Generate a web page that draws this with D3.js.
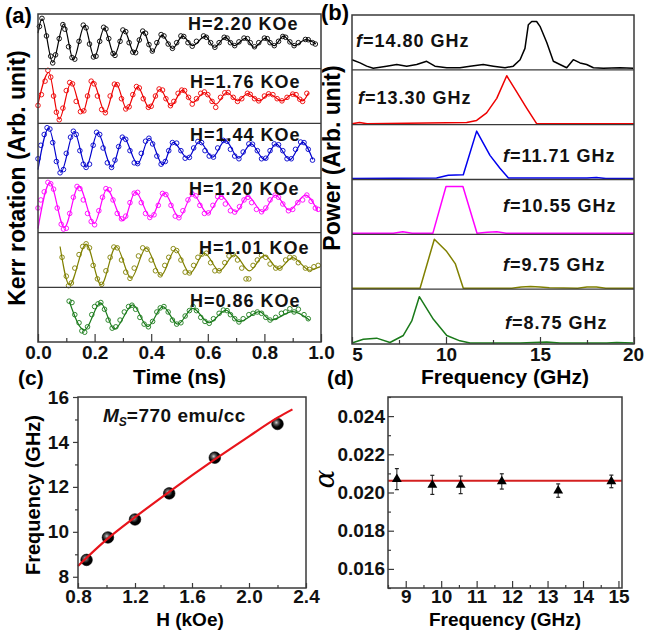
<!DOCTYPE html>
<html><head><meta charset="utf-8">
<script src="https://cdn.jsdelivr.net/npm/d3@7"></script>
<style>
body{margin:0;background:#fff;}
svg{display:block;}
</style></head><body>
<svg id="chart" width="645" height="634"></svg>
<script>
// ================= DATA =================
// (a) Kerr rotation traces: fit curves (extrema read from picture) and measured points
const kerrLabels = ["H=2.20 KOe","H=1.76 KOe","H=1.44 KOe","H=1.20 KOe","H=1.01 KOe","H=0.86 KOe"];
const kerrColors = ["#000000","#ee0000","#0000cc","#ff00ff","#808000","#1a7a1a"];
const timeTicks = [0,0.2,0.4,0.6,0.8,1.0];
const timeMinorTicks = [0.1,0.3,0.5,0.7,0.9];

const kerrFit1 = [[0,0.3],[0.014,0.83],[0.052,-0.78],[0.091,0.64],[0.125,-0.68],[0.164,0.58],[0.199,-0.59],[0.234,0.48],[0.270,-0.51],[0.305,0.40],[0.340,-0.43],[0.372,0.36],[0.405,-0.38],[0.438,0.23],[0.476,-0.26],[0.511,0.19],[0.547,-0.16],[0.591,0.19],[0.623,-0.22],[0.662,0.15],[0.694,-0.16],[0.733,0.11],[0.764,-0.22],[0.803,0.11],[0.835,-0.16],[0.867,0.19],[0.906,-0.16],[0.947,0.06],[0.982,-0.10]];
const kerrFit2 = [[0,-0.3],[0.038,0.87],[0.075,-0.86],[0.117,0.50],[0.158,-0.61],[0.193,0.54],[0.238,-0.61],[0.276,0.46],[0.314,-0.49],[0.352,0.34],[0.393,-0.43],[0.431,0.25],[0.470,-0.36],[0.511,0.22],[0.547,-0.24],[0.588,0.13],[0.629,-0.30],[0.667,0.13],[0.706,-0.18],[0.741,0.09],[0.782,-0.18],[0.817,0.07],[0.862,-0.18],[0.900,0.07],[0.935,-0.18],[0.956,0.13]];
const kerrFit3 = [[0,-0.7],[0.038,0.83],[0.081,-0.80],[0.128,0.71],[0.170,-0.61],[0.211,0.66],[0.261,-0.61],[0.302,0.50],[0.352,-0.49],[0.393,0.46],[0.441,-0.52],[0.478,0.31],[0.529,-0.28],[0.570,0.34],[0.617,-0.24],[0.662,0.38],[0.709,-0.28],[0.753,0.25],[0.800,-0.33],[0.841,0.25],[0.890,-0.33],[0.935,0.31],[0.971,-0.33]];
const kerrFit4 = [[0,-0.86],[0.042,0.83],[0.093,-0.82],[0.144,0.71],[0.199,-0.67],[0.243,0.59],[0.302,-0.57],[0.344,0.50],[0.399,-0.45],[0.446,0.46],[0.499,-0.45],[0.547,0.41],[0.600,-0.30],[0.647,0.34],[0.700,-0.24],[0.741,0.34],[0.794,-0.24],[0.839,0.38],[0.888,-0.18],[0.945,0.38],[0.988,-0.20]];
const kerrFit5 = [[0.078,0.50],[0.111,-0.92],[0.170,0.59],[0.223,-0.92],[0.276,0.50],[0.329,-0.67],[0.382,0.44],[0.435,-0.57],[0.485,0.38],[0.537,-0.49],[0.588,0.25],[0.641,-0.40],[0.694,0.19],[0.747,-0.40],[0.800,0.17],[0.850,-0.33],[0.900,0.09],[0.960,-0.38],[0.995,-0.25]];
const kerrFit6 = [[0.111,0.48],[0.164,-0.57],[0.221,0.44],[0.270,-0.54],[0.335,0.36],[0.388,-0.44],[0.441,0.30],[0.494,-0.35],[0.547,0.23],[0.605,-0.30],[0.664,0.17],[0.711,-0.26],[0.782,0.11],[0.823,-0.20],[0.900,0.11],[0.959,-0.20]];

const kerrPts1 = [[0.005,0.55],[0.014,0.85],[0.03,0.2],[0.045,-0.55],[0.052,-0.80],[0.062,-0.5],[0.075,0.1],[0.088,0.62],[0.095,0.45],[0.108,-0.2],[0.12,-0.6],[0.13,-0.66],[0.145,0.0],[0.16,0.6],[0.17,0.5],[0.182,-0.1],[0.196,-0.58],[0.205,-0.55],[0.218,0.0],[0.232,0.52],[0.24,0.46],[0.25,0.1],[0.265,-0.45],[0.272,-0.52],[0.29,0.0],[0.3,0.42],[0.31,0.36],[0.322,-0.05],[0.335,-0.40],[0.345,-0.42],[0.358,0.05],[0.37,0.38],[0.38,0.3],[0.392,-0.12],[0.404,-0.36],[0.42,-0.05],[0.435,0.25],[0.445,0.2],[0.46,-0.1],[0.475,-0.26],[0.49,-0.05],[0.505,0.2],[0.515,0.18],[0.53,-0.05],[0.545,-0.18],[0.56,0.0],[0.585,0.2],[0.595,0.15],[0.61,-0.05],[0.625,-0.22],[0.64,-0.05],[0.658,0.15],[0.668,0.12],[0.68,-0.05],[0.695,-0.16],[0.71,-0.02],[0.728,0.12],[0.74,0.1],[0.75,-0.05],[0.765,-0.2],[0.78,-0.05],[0.8,0.12],[0.81,0.1],[0.82,-0.05],[0.835,-0.16],[0.85,0.0],[0.865,0.18],[0.875,0.15],[0.89,-0.02],[0.905,-0.16],[0.92,-0.05],[0.945,0.07],[0.955,0.06],[0.97,-0.05],[0.98,-0.1]];
const kerrPts2 = [[0.0,-0.35],[0.012,0.05],[0.025,0.55],[0.035,0.95],[0.045,0.7],[0.055,0.0],[0.065,-0.6],[0.075,-0.88],[0.088,-0.45],[0.1,0.2],[0.112,0.5],[0.122,0.45],[0.135,-0.2],[0.15,-0.58],[0.162,-0.55],[0.175,0.0],[0.188,0.55],[0.198,0.45],[0.21,0.0],[0.225,-0.5],[0.238,-0.62],[0.255,0.0],[0.27,0.44],[0.28,0.42],[0.295,-0.1],[0.31,-0.48],[0.322,-0.4],[0.335,0.05],[0.348,0.35],[0.358,0.3],[0.372,-0.1],[0.39,-0.42],[0.4,-0.38],[0.415,0.0],[0.428,0.26],[0.44,0.22],[0.452,-0.1],[0.468,-0.36],[0.48,-0.2],[0.495,0.1],[0.508,0.22],[0.518,0.2],[0.532,-0.05],[0.545,-0.3],[0.56,-0.1],[0.575,0.1],[0.588,0.15],[0.6,0.05],[0.615,-0.2],[0.628,-0.42],[0.645,-0.05],[0.66,0.12],[0.672,0.13],[0.69,-0.05],[0.705,-0.2],[0.72,-0.1],[0.74,0.1],[0.75,0.06],[0.765,-0.1],[0.78,-0.18],[0.8,0.0],[0.815,0.08],[0.83,0.05],[0.845,-0.1],[0.862,-0.18],[0.88,-0.05],[0.9,0.07],[0.912,0.05],[0.925,-0.12],[0.935,-0.2],[0.95,0.1]];
const kerrPts3 = [[0.0,-0.3],[0.01,0.2],[0.022,0.6],[0.032,0.85],[0.042,0.8],[0.052,0.3],[0.065,-0.4],[0.078,-0.82],[0.09,-0.7],[0.1,-0.1],[0.115,0.5],[0.125,0.72],[0.135,0.6],[0.148,0.0],[0.16,-0.5],[0.17,-0.62],[0.182,-0.5],[0.195,0.2],[0.207,0.68],[0.218,0.6],[0.23,0.1],[0.245,-0.45],[0.26,-0.62],[0.272,-0.35],[0.285,0.15],[0.298,0.5],[0.31,0.42],[0.325,0.0],[0.34,-0.45],[0.352,-0.48],[0.365,-0.1],[0.38,0.35],[0.392,0.46],[0.405,0.25],[0.42,-0.2],[0.435,-0.5],[0.45,-0.4],[0.462,0.0],[0.475,0.3],[0.49,0.28],[0.505,0.0],[0.52,-0.28],[0.535,-0.25],[0.55,0.1],[0.565,0.34],[0.578,0.3],[0.59,0.0],[0.605,-0.2],[0.62,-0.24],[0.635,0.1],[0.655,0.38],[0.668,0.35],[0.68,0.05],[0.695,-0.2],[0.71,-0.3],[0.725,-0.05],[0.745,0.25],[0.758,0.24],[0.775,0.0],[0.79,-0.3],[0.805,-0.28],[0.82,0.0],[0.835,0.25],[0.85,0.22],[0.865,0.0],[0.88,-0.3],[0.895,-0.3],[0.91,0.05],[0.928,0.32],[0.94,0.3],[0.955,0.05],[0.97,-0.35]];
const kerrPts4 = [[0.0,-0.1],[0.01,0.2],[0.022,0.5],[0.035,0.85],[0.045,0.8],[0.055,0.6],[0.068,-0.1],[0.082,-0.7],[0.09,-0.88],[0.1,-0.85],[0.112,-0.3],[0.125,0.3],[0.138,0.7],[0.148,0.62],[0.16,0.2],[0.175,-0.3],[0.188,-0.6],[0.2,-0.72],[0.215,-0.2],[0.228,0.3],[0.24,0.62],[0.252,0.58],[0.265,0.2],[0.28,-0.3],[0.295,-0.5],[0.31,-0.4],[0.325,0.1],[0.34,0.45],[0.352,0.48],[0.365,0.1],[0.38,-0.3],[0.395,-0.45],[0.41,-0.35],[0.425,0.0],[0.44,0.44],[0.452,0.4],[0.47,0.0],[0.485,-0.4],[0.498,-0.46],[0.512,-0.2],[0.53,0.2],[0.545,0.42],[0.558,0.35],[0.572,0.0],[0.588,-0.3],[0.602,-0.28],[0.618,0.0],[0.635,0.32],[0.648,0.3],[0.662,0.05],[0.68,-0.2],[0.695,-0.25],[0.712,-0.05],[0.728,0.2],[0.742,0.3],[0.755,0.1],[0.772,-0.15],[0.79,-0.24],[0.805,-0.1],[0.82,0.2],[0.838,0.38],[0.85,0.3],[0.865,0.05],[0.885,-0.2],[0.9,-0.15],[0.918,0.1],[0.935,0.2],[0.95,0.38],[0.965,0.15],[0.98,-0.1],[0.99,-0.15]];
const kerrPts5 = [[0.085,0.1],[0.1,-0.6],[0.108,-0.95],[0.118,-0.85],[0.13,-0.3],[0.145,0.2],[0.158,0.5],[0.17,0.6],[0.182,0.45],[0.195,-0.2],[0.21,-0.7],[0.225,-0.9],[0.24,-0.4],[0.255,0.1],[0.268,0.48],[0.28,0.45],[0.295,0.0],[0.31,-0.45],[0.325,-0.68],[0.34,-0.3],[0.355,0.15],[0.37,0.45],[0.385,0.4],[0.4,0.0],[0.415,-0.4],[0.432,-0.55],[0.448,-0.2],[0.462,0.1],[0.478,0.42],[0.49,0.35],[0.505,0.0],[0.52,-0.45],[0.535,-0.48],[0.55,-0.2],[0.565,0.1],[0.58,0.22],[0.595,0.25],[0.61,-0.1],[0.625,-0.4],[0.64,-0.4],[0.66,-0.1],[0.675,0.15],[0.69,0.2],[0.705,0.0],[0.72,-0.3],[0.735,-0.7],[0.745,-0.7],[0.76,-0.2],[0.775,0.0],[0.79,0.17],[0.805,0.1],[0.82,-0.15],[0.84,-0.3],[0.855,-0.3],[0.875,0.0],[0.89,0.1],[0.905,0.08],[0.92,-0.1],[0.945,-0.3],[0.96,-0.35],[0.975,-0.25],[0.99,-0.2]];
const kerrPts6 = [[0.11,0.5],[0.12,0.45],[0.13,0.0],[0.145,-0.3],[0.155,-0.6],[0.165,-0.65],[0.175,-0.45],[0.19,0.0],[0.2,0.3],[0.212,0.4],[0.222,0.45],[0.235,0.2],[0.248,-0.2],[0.262,-0.5],[0.275,-0.45],[0.29,-0.2],[0.305,0.1],[0.32,0.3],[0.332,0.35],[0.345,0.2],[0.36,-0.1],[0.375,-0.35],[0.39,-0.45],[0.405,-0.25],[0.42,0.1],[0.432,0.25],[0.445,0.3],[0.46,0.1],[0.475,-0.2],[0.49,-0.35],[0.505,-0.3],[0.52,-0.05],[0.535,0.15],[0.548,0.3],[0.56,0.15],[0.575,-0.1],[0.59,-0.25],[0.605,-0.32],[0.62,-0.15],[0.64,0.05],[0.655,0.17],[0.668,0.15],[0.68,0.0],[0.695,-0.15],[0.71,-0.27],[0.725,-0.15],[0.745,0.0],[0.76,0.05],[0.775,0.1],[0.79,0.05],[0.805,-0.1],[0.82,-0.2],[0.84,-0.1],[0.86,0.05],[0.875,0.1],[0.89,0.22],[0.905,0.1],[0.92,0.2],[0.94,0.0],[0.955,-0.15]];

// (b) FFT power spectra [frequency GHz, normalized power]
const specLabels = ["14.80 GHz","13.30 GHz","11.71 GHz","10.55 GHz","9.75 GHz","8.75 GHz"];
const specColors = ["#000000","#ee0000","#0000ee","#ff00ff","#808000","#1a7a1a"];
const freqTicks = [5,10,15,20];
const freqMinorTicks = [7.5,12.5,17.5];
const spec1 = [[5.0,0.17],[5.43,0.11],[5.78,0.05],[6.13,0.01],[6.49,0.03],[6.84,0.05],[7.38,0.08],[7.91,0.05],[8.44,0.08],[8.97,0.14],[9.41,0.05],[10.04,0.02],[10.74,0.02],[11.28,0.05],[11.98,0.08],[12.52,0.05],[13.14,0.02],[13.58,0.05],[13.94,0.17],[14.20,0.38],[14.38,0.82],[14.56,0.88],[14.82,0.88],[15.0,0.79],[15.36,0.49],[15.71,0.14],[16.06,0.08],[16.42,0.02],[16.77,0.17],[17.13,0.11],[17.48,0.08],[17.84,0.02],[18.37,0.01],[19.26,0.02],[19.96,0.01]];
const spec2 = [[5,0],[5.4,0.02],[5.8,0],[11.1,0.02],[11.63,0.06],[12.16,0.2],[12.7,0.47],[13.23,0.89],[13.76,0.59],[14.29,0.29],[14.82,0.0],[20,0]];
const spec3 = [[5,0.0],[9.5,0.01],[10.12,0.06],[10.92,0.07],[11.63,0.88],[12.34,0.43],[12.87,0.19],[13.32,0.01],[17.5,0.01],[18,0.02],[18.5,0],[20,0]];
const spec4 = [[5,0],[7.2,0],[7.7,0.03],[8.2,0],[9.3,0],[10.0,0.87],[10.9,0.87],[11.65,0],[12.2,0.02],[12.7,0.03],[13.2,0],[20,0]];
const spec5 = [[5,0],[8.62,0],[9.38,0.91],[10.04,0.68],[10.5,0.45],[10.92,0],[13.5,0],[14,0.02],[14.5,0.03],[15,0.02],[15.5,0.01],[17,0],[17.5,0.02],[18,0.02],[18.5,0],[20,0]];
const spec6 = [[5.0,0.0],[5.6,0.07],[6.31,0.09],[7.02,0.01],[7.73,0.14],[8.18,0.41],[8.58,0.86],[9.33,0.44],[10.04,0.14],[10.74,0.04],[11.28,0.0],[12.52,0.0],[13.94,0.0],[15.36,0.02],[16.06,0.0],[18.55,0.0],[19.08,0.01],[19.96,0.0]];

// (c) frequency vs field
const fieldH = [0.86,1.01,1.20,1.44,1.76,2.20];
const freqGHz = [8.75,9.75,10.55,11.71,13.30,14.80];
const fitH = [0.8,1.0,1.2,1.44,1.76,2.0,2.2,2.305];
const fitF = [8.48,9.65,10.65,11.78,13.22,14.25,15.08,15.45];
const hTicks = [0.8,1.2,1.6,2.0,2.4];
const hMinorTicks = [1.0,1.4,1.8,2.2];
const fTicks = [8,10,12,14,16];
const fMinorTicks = [9,11,13,15];

// (d) damping vs frequency
const alphaFreq = [8.75,9.75,10.55,11.71,13.30,14.80];
const alphaVal = [0.0207,0.0204,0.0204,0.02058,0.0201,0.02058];
const alphaErr = [0.00055,0.0005,0.00046,0.0004,0.00035,0.00033];
const alphaMean = 0.02062;
const dxTicks = [9,10,11,12,13,14,15];
const dxMinorTicks = [8.5,9.5,10.5,11.5,12.5,13.5,14.5];
const dyTicks = [0.016,0.018,0.020,0.022,0.024];
const dyMinorTicks = [0.015,0.017,0.019,0.021,0.023,0.025];

// ================= DRAWING =================
const FONT = "'Liberation Sans', Arial, Helvetica, sans-serif";
const svg = d3.select("#chart").attr("font-family", FONT).attr("font-weight", "bold");
const BORDER = "#3a3a3a";

function styleAxis(g, fs){
  g.attr("font-size", fs).attr("font-family", FONT).attr("font-weight", "bold");
  g.select(".domain").remove();
  g.selectAll(".tick line").attr("stroke", BORDER).attr("stroke-width", 1.2);
  g.selectAll(".tick text").attr("fill", "#111");
}

// ---------- Panel (a) ----------
const aBox = {l:38, r:321, t:14, b:342};
const aRowH = (aBox.b - aBox.t) / 6;
const xA = d3.scaleLinear().domain([0,1]).range([aBox.l, aBox.r]);
const kerrFits = [kerrFit1,kerrFit2,kerrFit3,kerrFit4,kerrFit5,kerrFit6];
const kerrPts = [kerrPts1,kerrPts2,kerrPts3,kerrPts4,kerrPts5,kerrPts6];
const aLabelPos = [[188,16],[190,19],[190,18],[189,17],[199,21],[190,20]];
const gA = svg.append("g");
kerrFits.forEach((fit, i) => {
  const top = aBox.t + i * aRowH, c = top + aRowH / 2;
  const y = d3.scaleLinear().domain([-1,1]).range([c + 27, c - 27]);
  const line = d3.line().x(d => xA(d[0])).y(d => y(d[1])).curve(d3.curveMonotoneX);
  gA.append("path").datum(fit).attr("d", line).attr("fill","none")
    .attr("stroke", kerrColors[i]).attr("stroke-width", 1.2);
  gA.append("g").selectAll("circle").data(kerrPts[i]).join("circle")
    .attr("cx", d => xA(d[0])).attr("cy", d => y(d[1])).attr("r", 2.3)
    .attr("fill","none").attr("stroke", kerrColors[i]).attr("stroke-width", 0.9);
  gA.append("text").attr("x", aLabelPos[i][0]).attr("y", top + aLabelPos[i][1])
    .attr("font-size", 18).attr("letter-spacing", 1).attr("fill","#111").text(kerrLabels[i]);
});
for (let i = 1; i < 6; i++) {
  gA.append("line").attr("x1", aBox.l).attr("x2", aBox.r)
    .attr("y1", aBox.t + i*aRowH).attr("y2", aBox.t + i*aRowH)
    .attr("stroke", BORDER).attr("stroke-width", 1.3);
}
gA.append("rect").attr("x", aBox.l).attr("y", aBox.t).attr("width", aBox.r-aBox.l).attr("height", aBox.b-aBox.t)
  .attr("fill","none").attr("stroke", BORDER).attr("stroke-width", 1.5);
const axA = gA.append("g").attr("transform", `translate(0,${aBox.b})`)
  .call(d3.axisBottom(xA).tickValues(timeTicks).tickSize(-8).tickPadding(4).tickFormat(d3.format(".1f")));
styleAxis(axA, 19);
const axAm = gA.append("g").attr("transform", `translate(0,${aBox.b})`)
  .call(d3.axisBottom(xA).tickValues(timeMinorTicks).tickSize(-4).tickFormat(""));
styleAxis(axAm, 19);
gA.append("text").attr("x", (aBox.l + aBox.r)/2).attr("y", 384).attr("text-anchor","middle")
  .attr("font-size", 21).text("Time (ns)");
gA.append("text").attr("transform", "translate(25,178) rotate(-90)").attr("text-anchor","middle")
  .attr("font-size", 23).text("Kerr rotation (Arb. unit)");
gA.append("text").attr("x", 5).attr("y", 23).attr("font-size", 22).text("(a)");

// ---------- Panel (b) ----------
const bBox = {l:352, r:634, t:15, b:344};
const bRowH = (bBox.b - bBox.t) / 6;
const xB = d3.scaleLinear().domain([5,20]).range([bBox.l, bBox.r]);
const specs = [spec1,spec2,spec3,spec4,spec5,spec6];
const bLabelPos = [[356,32],[358,34],[503,37],[503,32],[503,37],[505,40]];
const gB = svg.append("g");
specs.forEach((sp, i) => {
  const top = bBox.t + i * bRowH, bot = top + bRowH;
  const y = d3.scaleLinear().domain([0,1]).range([bot - 1, top]);
  const line = d3.line().x(d => xB(d[0])).y(d => y(d[1]));
  gB.append("path").datum(sp).attr("d", line).attr("fill","none")
    .attr("stroke", specColors[i]).attr("stroke-width", 1.5).attr("stroke-linejoin","round");
  const t = gB.append("text").attr("x", bLabelPos[i][0]).attr("y", top + bLabelPos[i][1])
    .attr("font-size", 18).attr("letter-spacing", 1).attr("fill","#111");
  t.append("tspan").attr("font-style","italic").text("f");
  t.append("tspan").text("=" + specLabels[i]);
});
for (let i = 1; i < 6; i++) {
  gB.append("line").attr("x1", bBox.l).attr("x2", bBox.r)
    .attr("y1", bBox.t + i*bRowH).attr("y2", bBox.t + i*bRowH)
    .attr("stroke", BORDER).attr("stroke-width", 1.3);
}
gB.append("rect").attr("x", bBox.l).attr("y", bBox.t).attr("width", bBox.r-bBox.l).attr("height", bBox.b-bBox.t)
  .attr("fill","none").attr("stroke", BORDER).attr("stroke-width", 1.5);
const axB = gB.append("g").attr("transform", `translate(0,${bBox.b})`)
  .call(d3.axisBottom(xB).tickValues(freqTicks).tickSize(-7).tickPadding(3).tickFormat(d3.format("d")));
styleAxis(axB, 19);
axB.selectAll(".tick text").filter(d => d === 5).attr("dx", 5);
axB.selectAll(".tick text").filter(d => d === 20).attr("dx", -1);
const axBm = gB.append("g").attr("transform", `translate(0,${bBox.b})`)
  .call(d3.axisBottom(xB).tickValues(freqMinorTicks).tickSize(-4).tickFormat(""));
styleAxis(axBm, 19);
gB.append("text").attr("x", 505).attr("y", 384).attr("text-anchor","middle")
  .attr("font-size", 21).text("Frequency (GHz)");
gB.append("text").attr("transform", "translate(340,158) rotate(-90)").attr("text-anchor","middle")
  .attr("font-size", 23).text("Power (Arb. unit)");
gB.append("text").attr("x", 321).attr("y", 20).attr("font-size", 22).text("(b)");

// ---------- Panel (c) ----------
const cBox = {l:78, r:306, t:397, b:588};
const xC = d3.scaleLinear().domain([0.8,2.4]).range([cBox.l, cBox.r]);
const yC = d3.scaleLinear().domain([7.5,16]).range([cBox.b, cBox.t]);
const gC = svg.append("g");
const defs = svg.append("defs");
const grad = defs.append("radialGradient").attr("id","ball").attr("cx","40%").attr("cy","38%").attr("r","60%");
grad.append("stop").attr("offset","0%").attr("stop-color","#d0d0d0");
grad.append("stop").attr("offset","28%").attr("stop-color","#606060");
grad.append("stop").attr("offset","65%").attr("stop-color","#050505");
grad.append("stop").attr("offset","100%").attr("stop-color","#000");
gC.append("g").selectAll("circle").data(fieldH.map((h,i)=>[h,freqGHz[i]])).join("circle")
  .attr("cx", d => xC(d[0])).attr("cy", d => yC(d[1])).attr("r", 5.8)
  .attr("fill","url(#ball)").attr("stroke","#000").attr("stroke-width",0.6);
gC.append("path").datum(fitH.map((h,i)=>[h,fitF[i]]))
  .attr("d", d3.line().x(d=>xC(d[0])).y(d=>yC(d[1])).curve(d3.curveMonotoneX))
  .attr("fill","none").attr("stroke","#e8141b").attr("stroke-width",2.2);
gC.append("rect").attr("x", cBox.l).attr("y", cBox.t).attr("width", cBox.r-cBox.l).attr("height", cBox.b-cBox.t)
  .attr("fill","none").attr("stroke", BORDER).attr("stroke-width", 1.5);
const axCx = gC.append("g").attr("transform", `translate(0,${cBox.b})`)
  .call(d3.axisBottom(xC).tickValues(hTicks).tickSize(-5).tickPadding(1).tickFormat(d3.format(".1f")));
styleAxis(axCx, 19);
const axCxm = gC.append("g").attr("transform", `translate(0,${cBox.b})`)
  .call(d3.axisBottom(xC).tickValues(hMinorTicks).tickSize(-3).tickFormat(""));
styleAxis(axCxm, 19);
const axCy = gC.append("g").attr("transform", `translate(${cBox.l},0)`)
  .call(d3.axisLeft(yC).tickValues(fTicks).tickSize(5).tickPadding(4).tickFormat(d3.format("d")));
styleAxis(axCy, 19);
const axCym = gC.append("g").attr("transform", `translate(${cBox.l},0)`)
  .call(d3.axisLeft(yC).tickValues(fMinorTicks).tickSize(3).tickFormat(""));
styleAxis(axCym, 19);
gC.append("text").attr("x", 190).attr("y", 626).attr("text-anchor","middle")
  .attr("font-size", 19).text("H (kOe)");
gC.append("text").attr("transform", "translate(40,495) rotate(-90)").attr("text-anchor","middle")
  .attr("font-size", 20).text("Frequency (GHz)");
const ms = gC.append("text").attr("x", 103).attr("y", 422).attr("font-size", 19).attr("fill","#111");
ms.append("tspan").attr("font-style","italic").text("M");
ms.append("tspan").attr("font-style","italic").attr("font-size", 12).attr("dy", 4).text("S");
ms.append("tspan").attr("dy", -4).attr("letter-spacing", 0.5).text("=770 emu/cc");
gC.append("text").attr("x", 18).attr("y", 385).attr("font-size", 21).text("(c)");

// ---------- Panel (d) ----------
const dBox = {l:388, r:622, t:397, b:588};
const xD = d3.scaleLinear().domain([8.5,15.1]).range([dBox.l, dBox.r]);
const yD = d3.scaleLinear().domain([0.015,0.025]).range([dBox.b, dBox.t]);
const gD = svg.append("g");
const dData = alphaFreq.map((f,i)=>({f, a:alphaVal[i], e:alphaErr[i]}));
const eb = gD.append("g").selectAll("g").data(dData).join("g");
eb.append("line").attr("x1", d=>xD(d.f)).attr("x2", d=>xD(d.f))
  .attr("y1", d=>yD(d.a+d.e)).attr("y2", d=>yD(d.a-d.e)).attr("stroke","#222").attr("stroke-width",1);
eb.append("line").attr("x1", d=>xD(d.f)-2).attr("x2", d=>xD(d.f)+2)
  .attr("y1", d=>yD(d.a+d.e)).attr("y2", d=>yD(d.a+d.e)).attr("stroke","#222").attr("stroke-width",1.2);
eb.append("line").attr("x1", d=>xD(d.f)-2).attr("x2", d=>xD(d.f)+2)
  .attr("y1", d=>yD(d.a-d.e)).attr("y2", d=>yD(d.a-d.e)).attr("stroke","#222").attr("stroke-width",1.2);
gD.append("line").attr("x1", dBox.l).attr("x2", dBox.r).attr("y1", yD(alphaMean)).attr("y2", yD(alphaMean))
  .attr("stroke","#d42020").attr("stroke-width",2);
gD.append("g").selectAll("path").data(dData).join("path")
  .attr("transform", d=>`translate(${xD(d.f)},${yD(d.a)})`)
  .attr("d", d3.symbol().type(d3.symbolTriangle).size(42)).attr("fill","#000");
gD.append("rect").attr("x", dBox.l).attr("y", dBox.t).attr("width", dBox.r-dBox.l).attr("height", dBox.b-dBox.t)
  .attr("fill","none").attr("stroke", BORDER).attr("stroke-width", 1.5);
const axDx = gD.append("g").attr("transform", `translate(0,${dBox.b})`)
  .call(d3.axisBottom(xD).tickValues(dxTicks).tickSize(-7).tickPadding(1).tickFormat(d3.format("d")));
styleAxis(axDx, 19);
const axDxm = gD.append("g").attr("transform", `translate(0,${dBox.b})`)
  .call(d3.axisBottom(xD).tickValues(dxMinorTicks).tickSize(-3).tickFormat(""));
styleAxis(axDxm, 19);
const axDy = gD.append("g").attr("transform", `translate(${dBox.l},0)`)
  .call(d3.axisLeft(yD).tickValues(dyTicks).tickSize(-6).tickPadding(3).tickFormat(d3.format(".3f")));
styleAxis(axDy, 19);
const axDym = gD.append("g").attr("transform", `translate(${dBox.l},0)`)
  .call(d3.axisLeft(yD).tickValues(dyMinorTicks).tickSize(-3).tickFormat(""));
styleAxis(axDym, 19);
gD.append("text").attr("x", 505).attr("y", 626).attr("text-anchor","middle")
  .attr("font-size", 19).text("Frequency (GHz)");
gD.append("text").attr("transform", "translate(334,479) rotate(-90)").attr("text-anchor","middle")
  .attr("font-size", 28).attr("font-style","italic").attr("font-weight","normal")
  .attr("font-family","'DejaVu Serif', 'Liberation Serif', serif").text("α");
gD.append("text").attr("x", 327).attr("y", 385).attr("font-size", 21).text("(d)");
</script>
</body></html>
